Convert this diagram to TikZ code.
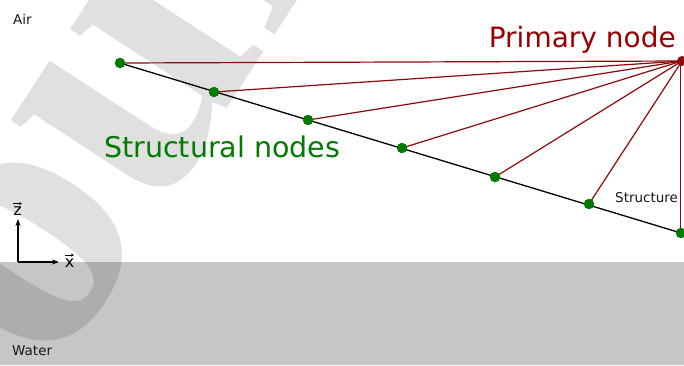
\documentclass[tikz,border=0pt]{standalone}
\usepackage{fontspec}
\setmainfont{DejaVu Sans}
\newfontfamily\wmfont{Liberation Serif}
\usetikzlibrary{arrows.meta}
\definecolor{primred}{HTML}{990000}
\definecolor{linered}{HTML}{8B0A0A}
\definecolor{structgreen}{HTML}{007A00}
\definecolor{watergray}{HTML}{C6C6C6}
\tikzset{
  x=1pt, y=-1pt,
  lbl/.style={inner sep=0pt, anchor=base west, font=\fontsize{13.5}{14}\selectfont, text=black!90},
  bigred/.style={inner sep=0pt, anchor=base east, font=\fontsize{28}{30}\selectfont, text=primred},
  biggreen/.style={inner sep=0pt, anchor=base west, font=\fontsize{28.5}{30}\selectfont, text=structgreen},
  sdot/.style={circle, fill=structgreen, inner sep=0pt, minimum size=10.5pt},
  pdot/.style={circle, fill=linered, inner sep=0pt, minimum size=10pt},
  tie/.style={linered, line width=1.2pt},
  beam/.style={black, line width=1.3pt},
  axis/.style={black, line width=1.2pt, -{Stealth[length=7pt,width=5pt]}},
  vecarrow/.style={black, line width=0.8pt, -{Stealth[length=3pt,width=3pt]}},
  axlbl/.style={inner sep=0pt, anchor=base, font=\fontsize{16}{17}\selectfont}
}
\begin{document}
\begin{tikzpicture}
\useasboundingbox (0,0) rectangle (684,365);
\clip (0,0) rectangle (684,365);
\fill[white] (0,0) rectangle (684,365);
\fill[watergray] (0,262) rectangle (684,365);
% watermark
\node[inner sep=0pt, anchor=base west, rotate=57, text=black, text opacity=0.12,
      font=\wmfont\bfseries\fontsize{380}{380}\selectfont] (wm) at (-64,557) {Source};
% structural nodes
\coordinate (s1) at (120,63);
\coordinate (s2) at (214,92);
\coordinate (s3) at (308,120);
\coordinate (s4) at (402,148);
\coordinate (s5) at (495,177);
\coordinate (s6) at (589,204);
\coordinate (s7) at (681,233);
\coordinate (p) at (682,61);
% ties
\foreach \s in {s1,s2,s3,s4,s5,s6} \draw[tie] (p) -- (\s);
\draw[tie] (680.5,61) -- (680.5,233);
% beam
\draw[beam] (s1) -- (s7);
% dots
\foreach \s in {s1,s2,s3,s4,s5,s6,s7} \node[sdot] (d\s) at (\s) {};
\node[pdot] (pd) at (p) {};
% labels
\node[lbl] (air) at (13,24) {Air};
\node[lbl] (water) at (12,355) {Water};
\node[lbl] (structure) at (615,202) {Structure};
\node[bigred] (prim) at (676,47) {Primary node};
\node[biggreen] (struct) at (104,157) {Structural nodes};
% axes
\coordinate (o) at (18,262);
\coordinate (zt) at (18,219);
\coordinate (xt) at (59,262);
\draw[axis] (o) -- (zt);
\draw[axis] (o) -- (xt);
\node[axlbl] (zl) at (17.5,215.5) {z};
\node[axlbl] (xl) at (69.5,267) {x};
\draw[vecarrow] ([xshift=-4.5pt]zl.north) ++(0,-3) -- ++(9,0);
\draw[vecarrow] ([xshift=-4.5pt]xl.north) ++(0,-3) -- ++(9,0);
\end{tikzpicture}
\end{document}
